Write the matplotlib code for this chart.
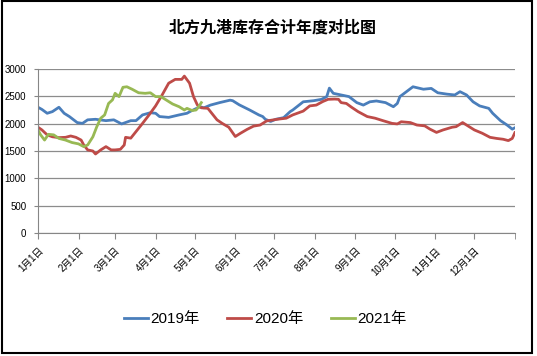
import matplotlib
matplotlib.use("Agg")
import matplotlib.pyplot as plt
from matplotlib.patches import Rectangle

plt.rcParams['font.family'] = ['Liberation Sans', 'Noto Sans CJK SC']

# day of year (0 = 1月1日) and inventory
days_2019 = [0, 3, 7, 11, 16, 20, 24, 30, 34, 38, 44, 52, 58, 64, 71, 75, 80, 86, 90, 93,
             100, 108, 114, 117, 124, 127, 132, 139, 147, 149, 154, 162, 169, 172, 174, 178,
             182, 188, 193, 195, 203, 211, 217, 221, 223, 226, 232, 238, 244, 249, 254, 259,
             266, 272, 275, 277, 282, 287, 295, 301, 306, 313, 319, 323, 328, 333, 338, 345,
             348, 354, 359, 363, 365]
stock_2019 = [2300, 2260, 2190, 2220, 2300, 2190, 2130, 2020, 2005, 2070, 2080, 2055, 2070, 1995, 2055, 2055,
              2160, 2200, 2190, 2130, 2115, 2160, 2190, 2230, 2310, 2290, 2340, 2385, 2430, 2420,
              2345, 2250, 2160, 2130, 2080, 2040, 2080, 2110, 2220, 2250, 2400, 2420, 2445, 2495,
              2650, 2555, 2525, 2495, 2385, 2340, 2400, 2415, 2385, 2310, 2370, 2495, 2585, 2675,
              2630, 2645, 2565, 2540, 2525, 2585, 2525, 2400, 2325, 2280, 2190, 2055, 1975, 1900, 1925]

days_2020 = [0, 3, 7, 11, 16, 21, 25, 29, 33, 35, 38, 42, 44, 48, 52, 56, 59, 63, 66, 67,
             71, 75, 80, 85, 90, 95, 100, 105, 110, 112, 116, 119, 122, 125, 130, 133, 137,
             141, 146, 151, 155, 160, 165, 170, 175, 183, 190, 195, 203, 208, 213, 218, 222,
             227, 230, 232, 236, 240, 245, 252, 258, 264, 271, 275, 278, 285, 290, 296, 300,
             305, 310, 317, 320, 325, 329, 334, 340, 346, 351, 356, 360, 363, 365]
stock_2020 = [1935, 1885, 1795, 1760, 1745, 1750, 1775, 1750, 1700, 1610, 1520, 1500, 1445, 1520, 1580, 1520,
              1520, 1530, 1610, 1750, 1735, 1855, 2005, 2160, 2325, 2525, 2740, 2810, 2810, 2870,
              2740, 2495, 2340, 2290, 2280, 2190, 2070, 2005, 1935, 1765, 1825, 1895, 1955, 1975,
              2050, 2080, 2100, 2160, 2230, 2325, 2340, 2405, 2445, 2450, 2445, 2385, 2370, 2300,
              2220, 2130, 2100, 2055, 2005, 1995, 2035, 2020, 1975, 1960, 1900, 1840, 1885, 1935,
              1945, 2020, 1960, 1885, 1825, 1750, 1730, 1715, 1690, 1730, 1835]

days_2021 = [0, 2, 5, 8, 12, 16, 21, 26, 31, 35, 38, 42, 45, 48, 51, 54, 57, 59, 62, 65,
             68, 72, 77, 82, 86, 90, 94, 98, 103, 108, 112, 114, 118, 121, 123, 125]
stock_2021 = [1885, 1795, 1700, 1805, 1795, 1730, 1700, 1655, 1630, 1580, 1610, 1760, 1945, 2100, 2160,
              2370, 2435, 2555, 2495, 2665, 2675, 2630, 2565, 2555, 2565, 2495, 2495, 2435, 2360,
              2310, 2250, 2280, 2240, 2250, 2310, 2385]

month_days = [0, 31, 59, 90, 120, 151, 181, 212, 243, 273, 304, 334]
month_labels = ['1月1日', '2月1日', '3月1日', '4月1日', '5月1日', '6月1日',
                '7月1日', '8月1日', '9月1日', '10月1日', '11月1日', '12月1日']

fig = plt.figure(figsize=(5.37, 3.56), dpi=100)
ax = fig.add_axes([0.0708, 0.3455, 0.888, 0.4607])

ax.plot(days_2019, stock_2019, color='#4A7EBB', lw=2, label='2019年')
ax.plot(days_2020, stock_2020, color='#BE4B48', lw=2, label='2020年')
ax.plot(days_2021, stock_2021, color='#98B954', lw=2, label='2021年')

ax.set_xlim(0, 365)
ax.set_ylim(0, 3000)
ax.set_yticks(range(0, 3001, 500))
ax.set_xticks(month_days)
ax.set_xticklabels(month_labels, rotation=45, ha='right', va='top', rotation_mode='anchor')
ax.set_xticks([365], minor=True)

ax.yaxis.grid(True, color='#8c8c8c', lw=0.9)
ax.set_axisbelow(True)
for s in ['top', 'right']:
    ax.spines[s].set_visible(False)
for s in ['left', 'bottom']:
    ax.spines[s].set_color('#868686')
ax.tick_params(axis='x', which='both', direction='out', length=4, color='#868686', labelsize=7, pad=5)
ax.tick_params(axis='y', direction='out', length=3, color='#868686', labelsize=7, pad=5.5)

fig.text(0.508, 0.923, '北方九港库存合计年度对比图', ha='center', va='center',
         fontsize=11.5, fontweight='bold')

fig.legend(loc='center', bbox_to_anchor=(0.4935, 0.104), ncol=3, frameon=False,
           fontsize=11, handlelength=1.6, handletextpad=0.15, columnspacing=1.8)

fig.add_artist(Rectangle((0.003, 0.008), 0.988, 0.988, transform=fig.transFigure,
                         fill=False, edgecolor='black', lw=1.5))

fig.savefig('out.png', dpi=100)
